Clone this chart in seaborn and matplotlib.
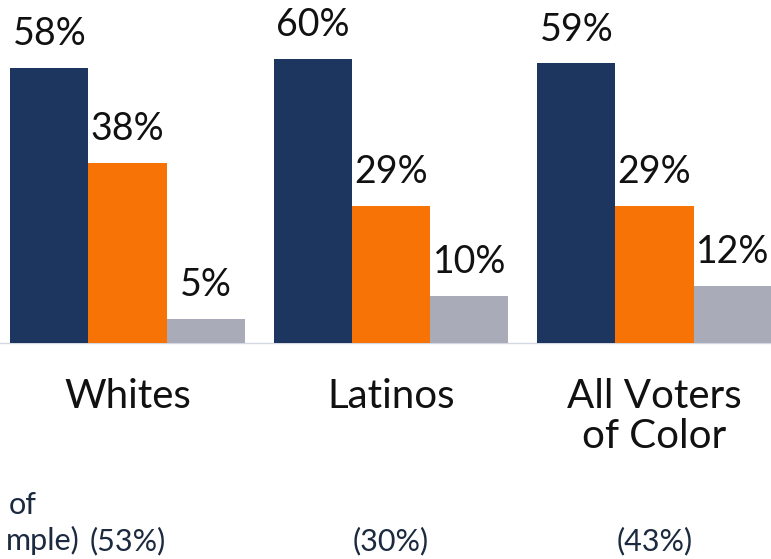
import matplotlib
matplotlib.use("Agg")
import matplotlib.pyplot as plt
import pandas as pd
import seaborn as sns

groups = ["Whites", "Latinos", "All Voters\nof Color"]
answers = ["A", "B", "C"]
values_a = [58, 60, 59]
values_b = [38, 29, 29]
values_c = [5, 10, 12]
sample_share = ["(53%)", "(30%)", "(43%)"]
# only the tail of the left-hand note is visible in the original frame
note_lines = ["of", "mple)"]

colors = ["#1d3660", "#f87305", "#a9abb8"]


def main():
    sns.set_theme(style="white")
    plt.rcParams["font.family"] = ["Lato", "DejaVu Sans"]

    rows = []
    for g, a, b, c in zip(groups, values_a, values_b, values_c):
        for ans, v in zip(answers, (a, b, c)):
            rows.append({"group": g, "answer": ans, "value": v})
    df = pd.DataFrame(rows)

    fig = plt.figure(figsize=(7.71, 5.59), dpi=100)
    ax = fig.add_axes([0, 0, 1, 1])
    sns.barplot(data=df, x="group", y="value", hue="answer", palette=colors,
                width=0.89, saturation=1, legend=False, linewidth=0, ax=ax)

    ax.set_xlim(-0.484, 2.442)
    ax.set_ylim(-45.6, 72.4)
    ax.axis("off")
    ax.axhline(0, color="#d3d8e2", lw=1, zorder=0)

    for cont in ax.containers:
        for bar in cont:
            h = bar.get_height()
            ax.annotate(f"{h:.0f}%", (bar.get_x() + bar.get_width() / 2, h),
                        xytext=(0, 16.5), textcoords="offset points",
                        ha="center", va="baseline", fontsize=27, color="#111111")

    for i, g in enumerate(groups):
        ax.text(i, -7.3, g, ha="center", va="top", fontsize=29,
                color="#111111", linespacing=1.1)
        ax.text(i, -43.7, sample_share[i], ha="center", va="baseline",
                fontsize=22, color="#1c2a3f")

    ax.text(-0.343, -36.1, note_lines[0], ha="right", va="baseline",
            fontsize=22, color="#1c2a3f")
    ax.text(-0.18, -43.7, note_lines[1], ha="right", va="baseline",
            fontsize=22, color="#1c2a3f")

    fig.savefig("out.png", dpi=100)
    plt.close(fig)


if __name__ == "__main__":
    main()
